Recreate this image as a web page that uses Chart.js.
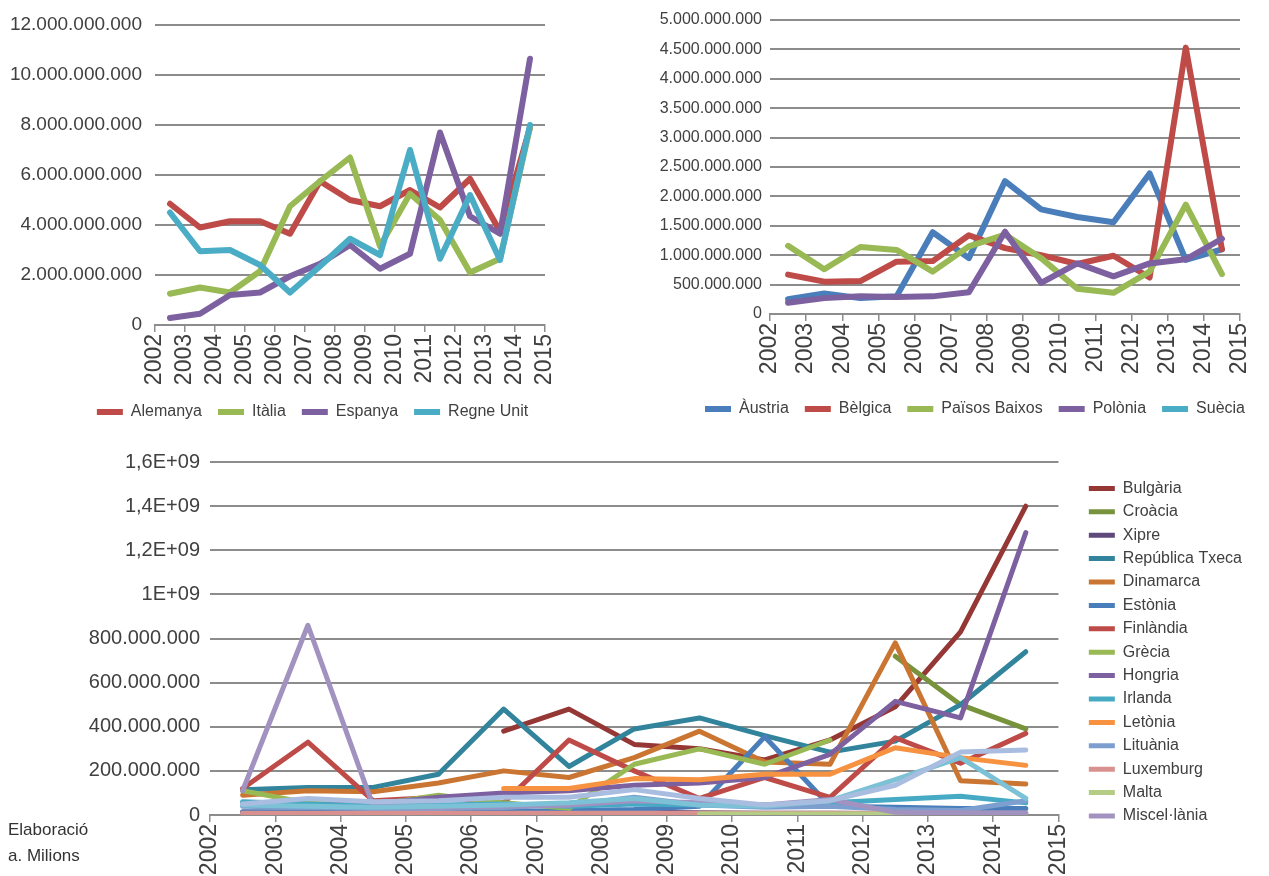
<!DOCTYPE html>
<html>
<head>
<meta charset="utf-8">
<title>Inversió per països 2002-2014</title>
<script src="https://cdn.jsdelivr.net/npm/chart.js@4.4.1/dist/chart.umd.min.js"></script>
<style>
  body { margin: 0; background: #fff; }
  #page { position: relative; width: 1269px; height: 876px; overflow: hidden; font-family: "Liberation Sans", Arial, sans-serif; }
  canvas { position: absolute; }
  #c1 { left: 0; top: 0; }
  #c2 { left: 630px; top: 0; }
  #c3 { left: 0; top: 440px; }
  .note { position: absolute; left: 8px; font-size: 17px; color: #333; line-height: 20px; }
</style>
</head>
<body>
<div id="page">
  <canvas id="c1" width="560" height="430"></canvas>
  <canvas id="c2" width="639" height="430"></canvas>
  <canvas id="c3" width="1269" height="436"></canvas>
  <div class="note" style="top:820px">Elaboració</div>
  <div class="note" style="top:846px">a. Milions</div>
</div>
<script>
// tick labels on the category boundaries, data sits between them
const yearLabels = ["2002", "2003", "2004", "2005", "2006", "2007", "2008",
                    "2009", "2010", "2011", "2012", "2013", "2014", "2015"];

// top left chart
const alemanya  = [4.85e9, 3.9e9, 4.15e9, 4.15e9, 3.65e9, 5.75e9, 5.0e9, 4.75e9, 5.4e9, 4.7e9, 5.85e9, 3.75e9, 7.9e9];
const italia    = [1.25e9, 1.5e9, 1.3e9, 2.15e9, 4.75e9, 5.75e9, 6.7e9, 3.15e9, 5.25e9, 4.2e9, 2.1e9, 2.65e9, 7.9e9];
const espanya   = [0.28e9, 0.45e9, 1.2e9, 1.3e9, 1.95e9, 2.45e9, 3.2e9, 2.25e9, 2.85e9, 7.7e9, 4.35e9, 3.65e9, 10.65e9];
const regneUnit = [4.5e9, 2.95e9, 3.0e9, 2.4e9, 1.3e9, 2.35e9, 3.45e9, 2.8e9, 7.0e9, 2.65e9, 5.2e9, 2.6e9, 8.0e9];

// top right chart
const austria      = [0.25e9, 0.35e9, 0.27e9, 0.3e9, 1.39e9, 0.95e9, 2.26e9, 1.78e9, 1.65e9, 1.56e9, 2.39e9, 0.92e9, 1.1e9];
const belgica      = [0.67e9, 0.55e9, 0.56e9, 0.89e9, 0.9e9, 1.34e9, 1.12e9, 1.0e9, 0.85e9, 0.99e9, 0.62e9, 4.53e9, 1.1e9];
const paisosBaixos = [1.16e9, 0.76e9, 1.14e9, 1.09e9, 0.72e9, 1.15e9, 1.35e9, 0.95e9, 0.43e9, 0.36e9, 0.72e9, 1.86e9, 0.68e9];
const polonia      = [0.19e9, 0.27e9, 0.3e9, 0.29e9, 0.3e9, 0.37e9, 1.4e9, 0.53e9, 0.86e9, 0.64e9, 0.86e9, 0.93e9, 1.28e9];
const suecia       = [null, null, null, null, null, null, null, null, null, null, null, null, null];

// bottom chart
const bulgaria      = [null, null, null, null, 380e6, 480e6, 320e6, 300e6, 250e6, 340e6, 490e6, 830e6, 1400e6];
const croacia       = [null, null, null, null, null, null, null, null, null, null, 720e6, 500e6, 390e6];
const xipre         = [12e6, 10e6, 8e6, 8e6, 10e6, 12e6, 12e6, 10e6, 8e6, 8e6, 6e6, 5e6, 5e6];
const republicaTxeca = [115e6, 125e6, 125e6, 185e6, 480e6, 220e6, 390e6, 440e6, 360e6, 285e6, 335e6, 500e6, 740e6];
const dinamarca     = [90e6, 110e6, 105e6, 145e6, 200e6, 170e6, 260e6, 380e6, 240e6, 230e6, 780e6, 155e6, 140e6];
const estonia       = [15e6, 15e6, 12e6, 10e6, 15e6, 20e6, 25e6, 40e6, 355e6, 40e6, 35e6, 30e6, 30e6];
const finlandia     = [120e6, 330e6, 65e6, 80e6, 55e6, 340e6, 200e6, 75e6, 170e6, 80e6, 350e6, 235e6, 370e6];
const grecia        = [110e6, 55e6, 45e6, 90e6, 55e6, 30e6, 230e6, 300e6, 230e6, 340e6, null, null, null];
const hongria       = [55e6, 45e6, 50e6, 80e6, 100e6, 110e6, 135e6, 145e6, 170e6, 275e6, 515e6, 440e6, 1280e6];
const irlanda       = [60e6, 50e6, 40e6, 45e6, 50e6, 40e6, 50e6, 45e6, 45e6, 55e6, 70e6, 85e6, 55e6];
const letonia       = [null, null, null, null, 120e6, 120e6, 165e6, 160e6, 185e6, 185e6, 305e6, 260e6, 225e6];
const lituania      = [40e6, 35e6, 30e6, 30e6, 35e6, 45e6, 80e6, 45e6, 35e6, 40e6, 25e6, 20e6, 65e6];
const luxemburg     = [8e6, 8e6, 8e6, 8e6, 8e6, 8e6, 8e6, 8e6, 8e6, 8e6, 8e6, 8e6, null];
const malta         = [null, null, null, null, null, null, null, 5e6, 5e6, 5e6, 5e6, 5e6, 5e6];
const miscellania   = [110e6, 860e6, 40e6, 35e6, 40e6, 45e6, 65e6, 55e6, 45e6, 70e6, 12e6, 10e6, 10e6];
// two more series are plotted but fall outside the (cut) legend
const extraA        = [45e6, 40e6, 35e6, 40e6, 45e6, 55e6, 75e6, 45e6, 40e6, 65e6, 160e6, 260e6, 75e6];
const extraB        = [50e6, 75e6, 60e6, 65e6, 80e6, 80e6, 115e6, 75e6, 45e6, 65e6, 135e6, 285e6, 295e6];

const bottomYLabels = ["0", "200.000.000", "400.000.000", "600.000.000", "800.000.000",
                       "1E+09", "1,2E+09", "1,4E+09", "1,6E+09"];

const grey = "#8c8c8c";
const ink = "#404040";
Chart.defaults.font.family = "'Liberation Sans', Arial, sans-serif";

function fmtDots(v) {
    return String(Math.round(v)).replace(/\B(?=(\d{3})+(?!\d))/g, ".");
}

// Excel draws later series on top, so give later ones a lower order
function series(label, values, color, width, idx, total) {
    return {
        label: label,
        data: values.map((v, i) => ({ x: i + 0.5, y: v })),
        borderColor: color,
        backgroundColor: color,
        borderWidth: width,
        pointRadius: 0,
        pointHoverRadius: 0,
        borderJoinStyle: "round",
        borderCapStyle: "round",
        tension: 0,
        order: total - idx
    };
}

// move the legend box after layout, Excel places it freely
const legendShift = {
    id: "legendShift",
    afterLayout(chart, args, opts) {
        const lg = chart.legend;
        if (!lg) return;
        lg.left += opts.dx || 0;
        lg.right += opts.dx || 0;
        lg.top += opts.dy || 0;
        lg.bottom += opts.dy || 0;
    }
};

function buildOptions(o) {
    return {
        responsive: false,
        animation: false,
        layout: { padding: o.padding },
        plugins: {
            legend: {
                position: o.legendPos,
                align: o.legendAlign,
                labels: {
                    usePointStyle: true,
                    pointStyle: "line",
                    pointStyleWidth: 26,
                    padding: o.legendPad,
                    color: ink,
                    font: { size: 16 },
                    filter: item => item.text !== "",
                    sort: (a, b) => a.datasetIndex - b.datasetIndex
                }
            },
            tooltip: { enabled: false },
            legendShift: { dx: o.dx, dy: o.dy }
        },
        scales: {
            x: {
                type: "linear",
                min: 0,
                max: 13,
                afterFit: s => { s.height = o.xHeight; s.paddingLeft = 0; s.paddingRight = 0; },
                grid: { drawOnChartArea: false, drawTicks: true, tickLength: 7, color: grey, lineWidth: 1.5 },
                border: { display: true, color: grey, width: 2 },
                ticks: {
                    stepSize: 1,
                    autoSkip: false,
                    minRotation: 90,
                    maxRotation: 90,
                    padding: 2,
                    color: ink,
                    font: { size: o.xFont },
                    callback: v => yearLabels[v]
                }
            },
            y: {
                min: 0,
                max: o.yMax,
                afterFit: s => { s.width = o.yWidth; s.paddingTop = 0; s.paddingBottom = 0; },
                grid: { color: grey, lineWidth: 2, drawTicks: false },
                border: { display: false },
                ticks: {
                    stepSize: o.yStep,
                    padding: o.yPad,
                    color: ink,
                    font: { size: o.yFont },
                    callback: o.yFmt
                }
            }
        }
    };
}

// top left
const set1 = [
    ["Alemanya", alemanya, "#BE4B48"],
    ["Itàlia", italia, "#98B954"],
    ["Espanya", espanya, "#7D60A0"],
    ["Regne Unit", regneUnit, "#4BACC6"]
];
new Chart(document.getElementById("c1"), {
    type: "line",
    data: { datasets: set1.map((s, i) => series(s[0], s[1], s[2], 6, i, set1.length)) },
    options: buildOptions({
        padding: { left: 0, top: 25, right: 15, bottom: 1 },
        legendPos: "bottom", legendAlign: "center", legendPad: 16, dx: 40, dy: 1,
        xHeight: 62, xFont: 23,
        yMax: 12e9, yStep: 2e9, yWidth: 155, yFont: 19, yPad: 13,
        yFmt: v => fmtDots(v)
    }),
    plugins: [legendShift]
});

// top right
const set2 = [
    ["Àustria", austria, "#4A7EBB"],
    ["Bèlgica", belgica, "#BE4B48"],
    ["Països Baixos", paisosBaixos, "#98B954"],
    ["Polònia", polonia, "#7D60A0"],
    ["Suècia", suecia, "#4BACC6"]
];
new Chart(document.getElementById("c2"), {
    type: "line",
    data: { datasets: set2.map((s, i) => series(s[0], s[1], s[2], 6, i, set2.length)) },
    options: buildOptions({
        padding: { left: 0, top: 20, right: 29, bottom: 1 },
        legendPos: "bottom", legendAlign: "center", legendPad: 16, dx: 40, dy: -2,
        xHeight: 73, xFont: 23,
        yMax: 5e9, yStep: 5e8, yWidth: 140, yFont: 16, yPad: 8,
        yFmt: v => fmtDots(v)
    }),
    plugins: [legendShift]
});

// bottom
const set3 = [
    ["Bulgària", bulgaria, "#953735"],
    ["Croàcia", croacia, "#77933C"],
    ["Xipre", xipre, "#5F497A"],
    ["República Txeca", republicaTxeca, "#31849B"],
    ["Dinamarca", dinamarca, "#CA7632"],
    ["Estònia", estonia, "#4A7EBB"],
    ["Finlàndia", finlandia, "#BE4B48"],
    ["Grècia", grecia, "#98B954"],
    ["Hongria", hongria, "#7D60A0"],
    ["Irlanda", irlanda, "#46AAC5"],
    ["Letònia", letonia, "#F69240"],
    ["Lituània", lituania, "#7C9FD0"],
    ["Luxemburg", luxemburg, "#D9918F"],
    ["Malta", malta, "#B4CC84"],
    ["Miscel·lània", miscellania, "#A192C0"],
    ["", extraA, "#7CC1D5"],
    ["", extraB, "#A9BDE0"]
];
new Chart(document.getElementById("c3"), {
    type: "line",
    data: { datasets: set3.map((s, i) => series(s[0], s[1], s[2], 5, i, set3.length)) },
    options: buildOptions({
        padding: { left: 0, top: 22, right: 40, bottom: 0 },
        legendPos: "right", legendAlign: "start", legendPad: 7.4, dx: 23, dy: 11,
        xHeight: 61, xFont: 23,
        yMax: 1.6e9, yStep: 2e8, yWidth: 210, yFont: 20, yPad: 10,
        yFmt: (v, i) => bottomYLabels[i]
    }),
    plugins: [legendShift]
});
</script>
</body>
</html>
